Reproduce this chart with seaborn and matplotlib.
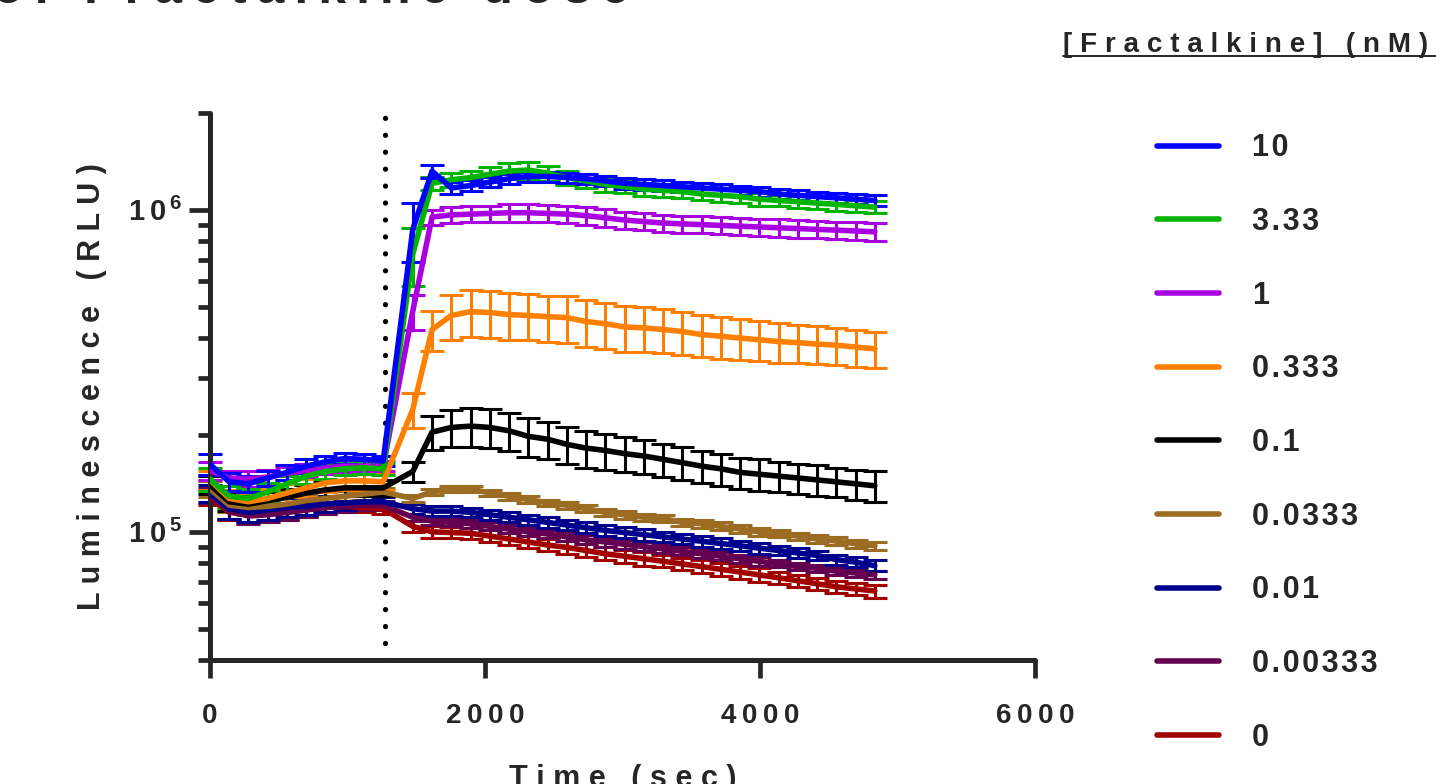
import numpy as np
import pandas as pd
import matplotlib
matplotlib.use("Agg")
import matplotlib.pyplot as plt
from matplotlib.lines import Line2D
from matplotlib.ticker import FixedLocator, NullFormatter
import seaborn as sns

# ---------------- data (luminescence in thousands of RLU) ----------------
time_pre = [0, 140, 280, 420, 560, 700, 840, 980, 1120, 1260]
time_post = [1475, 1615, 1755, 1895, 2035, 2175, 2315, 2455, 2595, 2735,
             2875, 3015, 3155, 3295, 3435, 3575, 3715, 3855, 3995, 4135,
             4275, 4415, 4555, 4695, 4835]
time_sec = time_pre + time_post

concentrations = ["10", "3.33", "1", "0.333", "0.1", "0.0333", "0.01", "0.00333", "0"]
colors = ["#0000FF", "#00B400", "#A800E0", "#FF8000", "#000000",
          "#9C6C22", "#00008C", "#640050", "#A00000"]

lum_10 = [162, 143, 141, 147, 153, 160, 165, 169, 168, 166,
          870, 1320, 1170, 1190, 1220, 1250, 1270, 1270, 1260, 1250, 1230, 1210, 1200,
          1190, 1180, 1170, 1160, 1150, 1140, 1120, 1110, 1100, 1090, 1080, 1070]
sem_10 = [12, 9, 8, 8, 8, 8, 7, 7, 7, 6,
          180, 60, 50, 45, 45, 45, 45, 45, 45, 45, 45, 45, 45,
          45, 45, 45, 45, 40, 40, 40, 40, 40, 40, 40, 40]

lum_3_33 = [146, 129, 127, 133, 141, 149, 154, 157, 158, 157,
            730, 1210, 1240, 1260, 1290, 1320, 1330, 1300, 1260, 1230, 1200, 1180, 1160,
            1150, 1140, 1120, 1110, 1100, 1080, 1070, 1060, 1050, 1040, 1030, 1020]
sem_3_33 = [12, 10, 9, 9, 8, 8, 8, 7, 7, 7,
            150, 55, 60, 65, 70, 75, 80, 70, 65, 60, 60, 55, 55,
            55, 50, 50, 50, 50, 50, 45, 45, 45, 45, 45, 45]

lum_1 = [155, 147, 146, 148, 152, 155, 158, 160, 160, 160,
         485, 950, 965, 970, 975, 980, 980, 975, 970, 960, 945, 930, 920,
         910, 905, 900, 895, 890, 885, 880, 875, 870, 865, 860, 855]
sem_1 = [10, 8, 8, 8, 7, 7, 7, 7, 6, 6,
         60, 50, 55, 55, 55, 60, 60, 60, 60, 60, 60, 55, 55,
         55, 55, 55, 55, 55, 55, 55, 55, 55, 55, 55, 55]

lum_0_333 = [145, 127, 124, 127, 132, 137, 142, 144, 144, 143,
             240, 425, 470, 483, 480, 473, 470, 466, 463, 450, 443, 433, 430,
             425, 419, 410, 405, 400, 395, 390, 387, 383, 380, 375, 370]
sem_0_333 = [10, 8, 8, 9, 9, 9, 9, 9, 9, 8,
             30, 60, 75, 80, 80, 78, 77, 76, 76, 74, 72, 70, 68,
             66, 64, 62, 60, 58, 56, 55, 53, 52, 50, 49, 48]

lum_0_1 = [140, 124, 122, 125, 128, 132, 135, 137, 137, 137,
           154, 204, 211, 213, 211, 206, 198, 194, 187, 182, 179, 175, 172,
           168, 164, 160, 157, 153, 151, 149, 147, 145, 143, 141, 139]
sem_0_1 = [9, 8, 8, 8, 8, 8, 8, 8, 8, 8,
           11, 25, 28, 30, 29, 28, 27, 26, 25, 24, 23, 22, 21,
           20, 19, 18, 18, 17, 17, 16, 16, 16, 15, 15, 15]

lum_0_0333 = [136, 121, 119, 120, 122, 125, 127, 129, 131, 133,
              127, 133, 136, 136, 132, 129, 126, 123, 121, 118, 115, 113, 111,
              110, 107, 106, 104, 102, 100, 98.6, 97, 95, 93.7, 91.8, 90.5]
sem_0_0333 = [8, 6, 6, 6, 6, 6, 6, 5, 5, 4,
              3, 3, 3, 3, 3, 3, 3, 3, 3, 3, 3, 3, 3,
              3, 3, 3, 3, 3, 3, 2.5, 2.5, 2.5, 2.5, 2.5, 2.5]

lum_0_01 = [132, 118, 115, 117, 119, 120, 122, 123, 124, 124,
            118, 116, 116, 115, 113, 111, 109, 107, 105, 103, 101, 99.5, 98,
            96.5, 95, 93.5, 92, 90.5, 89, 87.5, 86, 84.5, 82, 80.5, 78.5]
sem_0_01 = [8, 8, 8, 8, 8, 7, 7, 6, 5, 4,
            4, 4, 4, 4, 4, 4, 4, 4, 4, 4, 4, 4, 4,
            3.5, 3.5, 3.5, 3.5, 3.5, 3.5, 3, 3, 3, 3, 3, 3]

lum_0_00333 = [130, 116, 112, 113, 115, 117, 119, 120, 121, 121,
               111, 108, 107, 106, 104, 102, 100, 98.5, 96.5, 94.5, 93, 91.5, 90,
               88.5, 87, 85.5, 84, 82.5, 81, 79.5, 78, 77, 75.5, 74.5, 73.5]
sem_0_00333 = [7, 6, 6, 6, 6, 6, 5, 5, 4, 4,
               3, 3, 3, 3, 3, 3, 3, 3, 3, 3, 3, 3, 3,
               2.5, 2.5, 2.5, 2.5, 2.5, 2.5, 2, 2, 2, 2, 2, 2]

lum_0 = [128, 115, 113, 114, 115, 117, 119, 120, 119, 118,
         104, 100, 99.5, 99, 97, 95, 93, 91, 89.5, 87.5, 85.5, 84, 82.5,
         81, 79.5, 78, 76.5, 75, 73.5, 72, 70.5, 69, 67.5, 66.5, 65.5]
sem_0 = [7, 6, 6, 6, 6, 6, 5, 5, 4, 4,
         4, 4, 4, 4, 4, 4, 4, 4, 4, 4, 4, 4, 4,
         3.5, 3.5, 3.5, 3.5, 3.5, 3.5, 3, 3, 3, 3, 3, 3]

injection_time = 1275
title_text = "Effect of Fractalkine dose"
legend_title = "[Fractalkine] (nM)"
x_label = "Time (sec)"
y_label = "Luminescence (RLU)"
x_ticks = [0, 2000, 4000, 6000]
y_major = [1e5, 1e6]
y_minor = [4e4, 5e4, 6e4, 7e4, 8e4, 9e4, 2e5, 3e5, 4e5, 5e5, 6e5, 7e5, 8e5, 9e5, 2e6]

means = [lum_10, lum_3_33, lum_1, lum_0_333, lum_0_1, lum_0_0333, lum_0_01, lum_0_00333, lum_0]
sems = [sem_10, sem_3_33, sem_1, sem_0_333, sem_0_1, sem_0_0333, sem_0_01, sem_0_00333, sem_0]

rows = []
for conc, m, s in zip(concentrations, means, sems):
    for t, mv, sv in zip(time_sec, m, s):
        rows.append({"Time": t, "Lum": mv * 1000.0, "SEM": sv * 1000.0, "Conc": conc})
df = pd.DataFrame(rows)
palette = dict(zip(concentrations, colors))

# ---------------- style ----------------
sns.set_style("ticks")
plt.rcParams["font.family"] = ["Liberation Sans", "DejaVu Sans"]
plt.rcParams["font.weight"] = "bold"
plt.rcParams["mathtext.fontset"] = "custom"
plt.rcParams["mathtext.bf"] = "Liberation Sans:bold"
plt.rcParams["mathtext.rm"] = "Liberation Sans:bold"


def spaced(s, sep="\u2009"):
    return sep.join(list(s))


fig = plt.figure(figsize=(14.36, 7.84), dpi=100)
ax = fig.add_axes([0.1462, 0.1582, 0.5746, 0.6977])

draw_order = list(reversed(concentrations))
for conc in draw_order:
    sub = df[df["Conc"] == conc]
    ax.errorbar(sub["Time"], sub["Lum"], yerr=sub["SEM"], fmt="none",
                ecolor=palette[conc], elinewidth=2.2, capsize=8.3, capthick=2.2,
                clip_on=False, zorder=2)

sns.lineplot(data=df, x="Time", y="Lum", hue="Conc", hue_order=draw_order,
             palette=palette, linewidth=4.0, legend=False, ax=ax,
             errorbar=None, sort=False, zorder=3)

ax.axvline(injection_time, color="black", lw=3.8, linestyle=(0, (0.01, 3.2)),
           dash_capstyle="round", zorder=1)

ax.set_yscale("log")
ax.set_xlim(0, 6000)
ax.set_ylim(4e4, 2e6)

ax.xaxis.set_major_locator(FixedLocator(x_ticks))
ax.set_xticklabels([spaced(str(v)) for v in x_ticks])
ax.yaxis.set_major_locator(FixedLocator(y_major))
ax.set_yticklabels([r"$\mathbf{1\,0^{\,5}}$", r"$\mathbf{1\,0^{\,6}}$"])
ax.yaxis.set_minor_locator(FixedLocator(y_minor))
ax.yaxis.set_minor_formatter(NullFormatter())
ax.xaxis.set_minor_locator(FixedLocator([]))

for sp in ["top", "right"]:
    ax.spines[sp].set_visible(False)
for sp in ["left", "bottom"]:
    ax.spines[sp].set_linewidth(3.6)
    ax.spines[sp].set_capstyle("round")

ax.tick_params(axis="x", which="major", length=13, width=3.4, pad=18,
               labelsize=20, direction="out")
ax.tick_params(axis="y", which="major", length=15, width=3.4, pad=5,
               labelsize=21, direction="out")
ax.tick_params(axis="y", which="minor", length=9, width=3.4, direction="out")
for lab in ax.get_xticklabels() + ax.get_yticklabels():
    lab.set_fontweight("bold")

ax.set_xlabel(spaced(x_label, " "), fontsize=22, fontweight="bold", labelpad=25)
ax.set_ylabel(spaced(y_label, " "), fontsize=22, fontweight="bold", labelpad=15)

# legend
handles = [Line2D([0], [0], color=c, lw=4.0, solid_capstyle="round") for c in colors]
labels = [spaced(c, "\u200a") for c in concentrations]
leg = fig.legend(handles, labels, loc="upper left", bbox_to_anchor=(0.806, 0.830),
                 frameon=False, fontsize=22, handlelength=2.0, handletextpad=1.1,
                 labelspacing=1.43, borderpad=0.0, borderaxespad=0.0)
for t in leg.get_texts():
    t.set_fontweight("bold")

fig.text(1063 / 1436, 1 - 45 / 784, spaced(legend_title, "\u2009\u200a"), fontsize=20,
         fontweight="bold", ha="left", va="center")
fig.add_artist(Line2D([1063 / 1436, 1.0], [1 - 56 / 784, 1 - 56 / 784],
                      color="black", lw=1.2, transform=fig.transFigure))

fig.text(-0.16, 1 - 3 / 784, spaced(title_text), fontsize=36, fontweight="bold",
         ha="left", va="baseline")

fig.savefig("out.png", dpi=100)
